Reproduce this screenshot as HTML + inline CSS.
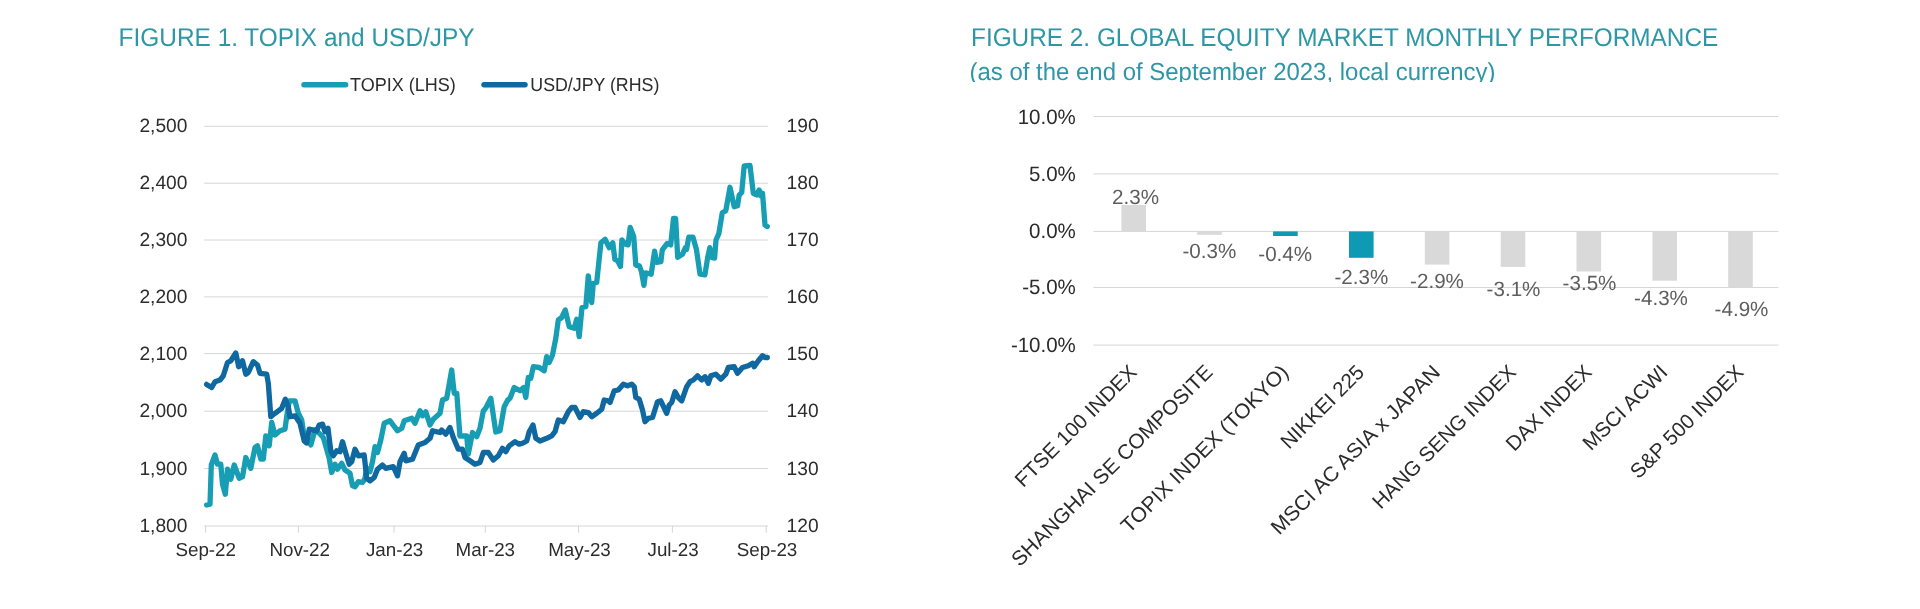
<!DOCTYPE html>
<html lang="en"><head><meta charset="utf-8"><title>Figures</title>
<style>
html,body{margin:0;padding:0;background:#fff;}
body{width:1920px;height:609px;overflow:hidden;}
svg{display:block;font-family:"Liberation Sans", sans-serif;will-change:transform;text-rendering:geometricPrecision;}
.t1{font-size:25.6px;fill:#2e97a6;}
.ax{font-size:18.8px;fill:#2c2c2c;}
.num{font-size:19.2px;fill:#2c2c2c;}
.ax2{font-size:20.8px;fill:#2b2b2b;}
.dl{font-size:20.6px;fill:#5e5e5e;}
.g{stroke:#d6d6d6;stroke-width:1;fill:none;}
</style></head><body>
<svg width="1920" height="609" viewBox="0 0 1920 609">
<rect width="1920" height="609" fill="#fff"/>

<text class="t1" x="118.6" y="46.0" textLength="356" lengthAdjust="spacingAndGlyphs">FIGURE 1. TOPIX and USD/JPY</text>
<line x1="304" y1="84.8" x2="345.6" y2="84.8" stroke="#189eb4" stroke-width="5.5" stroke-linecap="round"/>
<text class="ax" x="350" y="90.6" textLength="105.8" lengthAdjust="spacingAndGlyphs">TOPIX (LHS)</text>
<line x1="484" y1="84.8" x2="525" y2="84.8" stroke="#0f68a0" stroke-width="5.5" stroke-linecap="round"/>
<text class="ax" x="530.3" y="90.6" textLength="129" lengthAdjust="spacingAndGlyphs">USD/JPY (RHS)</text>
<line class="g" x1="204.2" y1="126.3" x2="768" y2="126.3"/>
<line class="g" x1="204.2" y1="183.2" x2="768" y2="183.2"/>
<line class="g" x1="204.2" y1="240.0" x2="768" y2="240.0"/>
<line class="g" x1="204.2" y1="296.9" x2="768" y2="296.9"/>
<line class="g" x1="204.2" y1="353.6" x2="768" y2="353.6"/>
<line class="g" x1="204.2" y1="411.2" x2="768" y2="411.2"/>
<line class="g" x1="204.2" y1="468.5" x2="768" y2="468.5"/>
<line class="g" x1="204.2" y1="526.0" x2="768" y2="526.0"/>
<line class="g" x1="205.6" y1="525.5" x2="205.6" y2="532.7"/>
<line class="g" x1="298.4" y1="525.5" x2="298.4" y2="532.7"/>
<line class="g" x1="394" y1="525.5" x2="394" y2="532.7"/>
<line class="g" x1="485.3" y1="525.5" x2="485.3" y2="532.7"/>
<line class="g" x1="578.5" y1="525.5" x2="578.5" y2="532.7"/>
<line class="g" x1="672.4" y1="525.5" x2="672.4" y2="532.7"/>
<line class="g" x1="766.2" y1="525.5" x2="766.2" y2="532.7"/>
<text class="num" x="187.4" y="132.4" text-anchor="end">2,500</text>
<text class="num" x="187.4" y="189.3" text-anchor="end">2,400</text>
<text class="num" x="187.4" y="246.1" text-anchor="end">2,300</text>
<text class="num" x="187.4" y="303.0" text-anchor="end">2,200</text>
<text class="num" x="187.4" y="359.7" text-anchor="end">2,100</text>
<text class="num" x="187.4" y="417.3" text-anchor="end">2,000</text>
<text class="num" x="187.4" y="474.6" text-anchor="end">1,900</text>
<text class="num" x="187.4" y="532.1" text-anchor="end">1,800</text>
<text class="num" x="786.6" y="132.4">190</text>
<text class="num" x="786.6" y="189.3">180</text>
<text class="num" x="786.6" y="246.1">170</text>
<text class="num" x="786.6" y="303.0">160</text>
<text class="num" x="786.6" y="359.7">150</text>
<text class="num" x="786.6" y="417.3">140</text>
<text class="num" x="786.6" y="474.6">130</text>
<text class="num" x="786.6" y="532.1">120</text>
<text class="ax" x="205.7" y="555.7" text-anchor="middle">Sep-22</text>
<text class="ax" x="299.7" y="555.7" text-anchor="middle">Nov-22</text>
<text class="ax" x="394.6" y="555.7" text-anchor="middle">Jan-23</text>
<text class="ax" x="485.3" y="555.7" text-anchor="middle">Mar-23</text>
<text class="ax" x="579.5" y="555.7" text-anchor="middle">May-23</text>
<text class="ax" x="673.1" y="555.7" text-anchor="middle">Jul-23</text>
<text class="ax" x="767" y="555.7" text-anchor="middle">Sep-23</text>
<polyline points="206.6,505.0 210.0,504.2 211.3,465.0 215.0,455.0 217.5,464.2 220.8,464.2 222.5,484.2 225.3,494.2 227.5,469.2 230.8,479.2 234.2,465.0 239.2,478.3 242.5,476.7 245.8,457.5 250.8,468.3 255.0,447.5 257.5,445.8 260.8,459.2 263.3,459.2 265.8,435.8 269.2,445.8 271.7,422.5 275.0,435.0 280.0,430.8 285.0,429.2 286.7,416.7 289.2,400.8 295.0,400.8 298.3,413.3 301.7,420.0 304.2,436.7 307.0,440.0 310.8,445.0 315.0,430.0 319.0,433.0 323.3,437.5 329.2,458.3 331.7,472.5 335.0,464.2 337.5,469.2 341.7,463.3 345.0,470.0 350.0,473.3 352.5,485.8 355.0,486.7 358.3,481.7 362.5,482.5 365.0,478.3 366.7,468.3 370.0,471.7 372.5,461.7 375.0,446.7 377.5,452.5 380.8,440.0 384.2,423.3 390.0,420.8 397.5,430.8 401.7,428.3 404.2,420.8 411.7,418.3 415.0,423.3 420.0,410.8 422.5,415.8 425.8,411.7 430.0,425.0 433.3,419.2 440.0,413.3 442.5,400.0 446.7,398.3 451.7,370.0 454.2,393.3 456.8,393.3 459.9,436.0 466.7,435.8 468.3,454.0 472.5,432.5 476.7,436.7 480.0,428.3 483.3,411.0 485.8,408.0 490.8,398.3 495.8,432.0 500.0,430.8 504.2,406.7 507.5,400.4 510.0,398.3 514.2,387.5 520.0,390.8 523.7,387.5 525.8,397.5 528.3,377.5 530.8,378.3 533.3,366.7 539.2,367.5 544.2,370.8 546.7,356.7 549.2,362.5 552.5,355.0 555.8,338.3 558.3,320.0 561.7,317.5 565.3,310.0 569.2,326.7 574.2,328.3 576.7,319.2 579.2,336.7 582.0,307.5 585.8,306.7 588.3,275.8 591.7,302.5 593.3,283.3 596.7,282.5 600.9,242.8 605.1,239.3 609.3,247.7 612.8,242.8 614.9,259.5 617.7,260.9 620.5,266.5 621.9,240.0 625.3,244.2 628.1,244.9 630.2,227.4 633.7,236.5 635.8,265.1 639.3,265.8 641.4,271.4 643.9,285.3 645.6,272.8 651.2,274.2 654.6,251.2 656.7,262.3 660.9,261.6 662.3,249.8 667.2,243.5 670.7,244.9 673.5,218.4 675.6,218.4 677.7,257.4 682.6,254.0 685.3,247.7 686.5,249.5 688.8,237.2 693.0,237.2 696.5,249.8 700.0,274.2 704.9,274.9 707.7,257.4 709.8,247.7 711.9,257.4 714.6,258.1 716.0,240.0 718.8,233.7 722.3,212.8 725.8,210.7 730.0,187.3 734.2,206.7 737.5,205.8 739.2,195.0 741.7,192.5 744.2,165.8 750.0,165.5 753.3,193.3 756.7,195.0 759.2,190.0 760.8,195.8 762.5,193.3 765.0,225.0 767.3,226.5" fill="none" stroke="#189eb4" stroke-width="5.3" stroke-linejoin="round" stroke-linecap="round"/>
<polyline points="206.6,384.4 211.7,387.5 215.0,381.7 220.0,380.0 223.3,375.8 227.5,362.5 230.8,360.8 235.8,353.0 238.7,366.7 242.5,360.8 245.8,374.2 248.3,372.5 253.3,361.7 257.5,365.0 260.0,373.3 266.7,374.2 268.3,383.3 270.8,416.7 275.0,413.3 281.7,408.3 285.3,399.2 288.3,406.7 290.0,416.7 295.0,415.8 300.0,423.3 304.2,441.0 306.5,443.0 309.2,429.2 316.7,430.8 319.2,425.0 322.5,424.2 325.0,431.7 328.0,428.3 330.8,450.8 333.3,455.8 336.7,450.8 340.0,451.7 342.5,441.7 345.8,453.3 349.2,464.2 351.7,461.7 355.0,449.2 358.3,455.8 364.2,455.0 366.7,478.3 370.0,480.8 374.2,477.5 377.5,469.2 382.5,465.0 385.8,468.3 393.3,466.7 397.5,475.8 400.0,461.7 404.2,453.3 405.8,460.8 412.5,459.2 418.3,445.0 425.0,442.5 430.0,438.3 432.5,430.8 440.0,432.5 441.7,430.0 445.8,434.2 450.0,427.5 453.3,437.5 458.3,449.2 462.5,449.2 465.0,457.5 470.0,460.8 475.0,464.2 480.0,462.5 483.3,452.5 488.3,452.5 493.3,460.0 498.3,455.8 502.5,448.3 505.8,451.7 509.2,445.8 515.0,441.7 519.2,444.2 523.0,443.0 526.7,441.0 529.2,431.7 533.0,425.0 535.8,438.3 540.0,441.0 546.7,438.3 551.7,435.8 555.0,431.7 558.3,420.0 563.3,421.7 568.3,411.7 571.7,407.5 575.0,407.5 580.0,417.5 583.3,411.7 588.3,412.5 591.7,416.7 596.7,413.3 601.7,409.2 604.2,400.0 608.3,400.8 610.0,402.5 614.2,390.8 618.3,390.0 623.3,384.2 627.5,385.8 631.7,384.2 634.2,386.7 635.8,397.5 639.2,399.2 642.5,410.0 645.0,421.7 648.3,418.3 652.5,417.5 657.5,401.7 660.8,400.8 666.7,413.3 669.2,405.0 671.7,402.5 675.0,391.7 678.3,397.5 681.7,400.8 686.7,386.7 690.0,381.7 693.3,380.0 697.5,375.8 701.7,380.0 705.0,376.7 708.3,383.3 710.8,375.8 715.8,374.2 720.8,379.2 725.8,374.2 728.3,367.5 734.2,366.7 737.5,373.3 742.5,367.5 748.3,365.8 752.5,363.3 754.2,366.7 758.3,360.8 762.5,355.8 765.0,357.5 767.3,357.5" fill="none" stroke="#0f68a0" stroke-width="5.3" stroke-linejoin="round" stroke-linecap="round"/>
<text class="t1" x="971" y="46.4" textLength="747.3" lengthAdjust="spacingAndGlyphs">FIGURE 2. GLOBAL EQUITY MARKET MONTHLY PERFORMANCE</text>
<clipPath id="c2"><rect x="960" y="50" width="600" height="32"/></clipPath>
<text class="t1" clip-path="url(#c2)" x="969.5" y="79.8" textLength="526" lengthAdjust="spacingAndGlyphs" style="font-size:24.6px">(as of the end of September 2023, local currency)</text>
<line class="g" x1="1093.4" y1="116.5" x2="1778.5" y2="116.5"/>
<line class="g" x1="1093.4" y1="173.9" x2="1778.5" y2="173.9"/>
<line class="g" x1="1093.4" y1="231.4" x2="1778.5" y2="231.4"/>
<line class="g" x1="1093.4" y1="287.5" x2="1778.5" y2="287.5"/>
<line class="g" x1="1093.4" y1="345.1" x2="1778.5" y2="345.1"/>
<text class="ax2" transform="translate(1075.8,123.5) scale(0.985,1)" text-anchor="end">10.0%</text>
<text class="ax2" transform="translate(1075.8,180.9) scale(0.985,1)" text-anchor="end">5.0%</text>
<text class="ax2" transform="translate(1075.8,237.6) scale(0.985,1)" text-anchor="end">0.0%</text>
<text class="ax2" transform="translate(1075.8,294.3) scale(0.985,1)" text-anchor="end">-5.0%</text>
<text class="ax2" transform="translate(1075.8,351.9) scale(0.985,1)" text-anchor="end">-10.0%</text>
<rect x="1121.4" y="205.0" width="24.6" height="26.4" fill="#d9d9d9"/>
<rect x="1197.2" y="231.4" width="24.6" height="3.4" fill="#d9d9d9"/>
<rect x="1273.1" y="231.4" width="24.6" height="4.6" fill="#0f9ab3"/>
<rect x="1349.0" y="231.4" width="24.6" height="26.4" fill="#0f9ab3"/>
<rect x="1424.8" y="231.4" width="24.6" height="33.2" fill="#d9d9d9"/>
<rect x="1500.7" y="231.4" width="24.6" height="35.5" fill="#d9d9d9"/>
<rect x="1576.5" y="231.4" width="24.6" height="40.1" fill="#d9d9d9"/>
<rect x="1652.4" y="231.4" width="24.6" height="49.3" fill="#d9d9d9"/>
<rect x="1728.2" y="231.4" width="24.6" height="56.2" fill="#d9d9d9"/>
<text class="dl" x="1135.5" y="203.8" text-anchor="middle">2.3%</text>
<text class="dl" x="1209.3" y="258" text-anchor="middle">-0.3%</text>
<text class="dl" x="1285.2" y="261.2" text-anchor="middle">-0.4%</text>
<text class="dl" x="1361.4" y="283.6" text-anchor="middle">-2.3%</text>
<text class="dl" x="1437" y="287.6" text-anchor="middle">-2.9%</text>
<text class="dl" x="1513.5" y="296.4" text-anchor="middle">-3.1%</text>
<text class="dl" x="1589.5" y="289.7" text-anchor="middle">-3.5%</text>
<text class="dl" x="1661" y="305.3" text-anchor="middle">-4.3%</text>
<text class="dl" x="1741.5" y="315.7" text-anchor="middle">-4.9%</text>
<text class="ax2" style="font-size:20.7px" transform="translate(1138.0,373.5) rotate(-45)" text-anchor="end">FTSE 100 INDEX</text>
<text class="ax2" style="font-size:20.7px" transform="translate(1213.8,373.5) rotate(-45)" text-anchor="end" textLength="274.5" lengthAdjust="spacingAndGlyphs">SHANGHAI SE COMPOSITE</text>
<text class="ax2" style="font-size:20.7px" transform="translate(1289.7,373.5) rotate(-45)" text-anchor="end" textLength="227" lengthAdjust="spacingAndGlyphs">TOPIX INDEX (TOKYO)</text>
<text class="ax2" style="font-size:20.7px" transform="translate(1365.5,373.5) rotate(-45)" text-anchor="end">NIKKEI 225</text>
<text class="ax2" style="font-size:20.7px" transform="translate(1441.4,373.5) rotate(-45)" text-anchor="end" textLength="229.5" lengthAdjust="spacingAndGlyphs">MSCI AC ASIA x JAPAN</text>
<text class="ax2" style="font-size:20.7px" transform="translate(1517.2,373.5) rotate(-45)" text-anchor="end">HANG SENG INDEX</text>
<text class="ax2" style="font-size:20.7px" transform="translate(1593.1,373.5) rotate(-45)" text-anchor="end">DAX INDEX</text>
<text class="ax2" style="font-size:20.7px" transform="translate(1668.9,373.5) rotate(-45)" text-anchor="end">MSCI ACWI</text>
<text class="ax2" style="font-size:20.7px" transform="translate(1744.8,373.5) rotate(-45)" text-anchor="end">S&amp;P 500 INDEX</text>
</svg></body></html>
